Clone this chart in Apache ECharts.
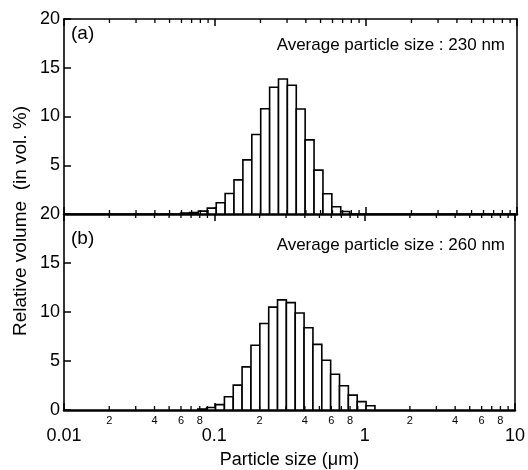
<!DOCTYPE html>
<html><head><meta charset="utf-8">
<script src="https://cdn.jsdelivr.net/npm/echarts@6/dist/echarts.min.js"></script>
<style>html,body{margin:0;padding:0;background:#fff}#c{width:528px;height:470px}</style>
</head><body><div id="c"></div>
<script>
// bin edges (µm)
const binEdges = [0.0592, 0.0678, 0.0776, 0.0889, 0.1019, 0.1167, 0.1336, 0.1530, 0.1753, 0.2008, 0.2300, 0.2633, 0.3015, 0.3453, 0.3954, 0.4529, 0.5187, 0.5940, 0.6803, 0.7791, 0.8923, 1.0219, 1.1703];
// relative volume (%) per bin
const volA = [0.1, 0.15, 0.3, 0.6, 1.16, 2.1, 3.5, 5.55, 8.15, 10.8, 13.0, 13.85, 13.2, 10.77, 7.6, 4.5, 2.08, 0.75, 0.25, 0, 0, 0];
const volB = [0, 0, 0.1, 0.25, 0.55, 1.35, 2.54, 4.4, 6.6, 8.83, 10.5, 11.24, 10.96, 9.9, 8.4, 6.7, 5.08, 3.65, 2.47, 1.52, 0.85, 0.44];
const minorTicks = [0.02,0.03,0.04,0.05,0.06,0.07,0.08,0.09,0.2,0.3,0.4,0.5,0.6,0.7,0.8,0.9,2,3,4,5,6,7,8,9];
const minorLabelValues = [0.02,0.04,0.06,0.08,0.2,0.4,0.6,0.8,2,4,6,8];
const minorLabelTexts = ['2','4','6','8','2','4','6','8','2','4','6','8'];
const panelLabels = ['(a)', '(b)'];
const annotations = ['Average particle size : 230 nm', 'Average particle size : 260 nm'];
const xTitle = 'Particle size (\u03bcm)';
const yTitle = 'Relative volume  (in vol. %)';

const FONT = 'Liberation Sans, Arial, Helvetica, sans-serif';
const chart = echarts.init(document.getElementById('c'), null, {renderer: 'canvas'});

function binData(vals) {
  return vals.map((v, i) => [binEdges[i], binEdges[i + 1], v]);
}
function barItem(params, api) {
  const v = api.value(2);
  if (!v) return null;
  const p0 = api.coord([api.value(0), 0]);
  const p1 = api.coord([api.value(1), v]);
  return {type: 'rect', shape: {x: p0[0], y: p1[1], width: p1[0] - p0[0], height: p0[1] - p1[1]},
    style: {fill: '#fff', stroke: '#000', lineWidth: 1.6}};
}
function minorTickItem(params, api) {
  const v = api.value(0);
  const b = api.coord([v, 0]);
  const t = api.coord([v, 20]);
  return {type: 'group', children: [
    {type: 'line', shape: {x1: b[0], y1: b[1], x2: b[0], y2: b[1] - 4}, style: {stroke: '#000', lineWidth: 1.3}},
    {type: 'line', shape: {x1: t[0], y1: t[1], x2: t[0], y2: t[1] + 4}, style: {stroke: '#000', lineWidth: 1.3}}
  ]};
}
function minorLabelItem(params, api) {
  const p = api.coord([api.value(0), 0]);
  return {type: 'text', x: p[0], y: p[1] + 5,
    style: {text: minorLabelTexts[params.dataIndex], fontSize: 11, fontFamily: FONT, fill: '#000', align: 'center', verticalAlign: 'top'}};
}

const grids = [
  {left: 64, right: 11, top: 19, height: 195},
  {left: 64, right: 11, top: 214, height: 197}
];
const xAxes = [], yAxes = [];
const fmtX = v => String(+Number(v).toPrecision(2));
for (let g = 0; g < 2; g++) {
  xAxes.push({type: 'log', logBase: 10, min: 0.01, max: 10, gridIndex: g, position: 'bottom',
    axisLine: {show: true, onZero: false, lineStyle: {color: '#000', width: 2.5}},
    axisTick: {show: true, inside: true, length: 7, lineStyle: {color: '#000', width: 1.5}},
    axisLabel: {show: g === 1, color: '#000', fontSize: 18, fontFamily: FONT, margin: 17, formatter: fmtX},
    splitLine: {show: false}, minorTick: {show: false},
    name: g === 1 ? xTitle : '', nameLocation: 'middle', nameGap: 41,
    nameTextStyle: {color: '#000', fontSize: 18, fontFamily: FONT}});
  xAxes.push({type: 'log', logBase: 10, min: 0.01, max: 10, gridIndex: g, position: 'top',
    axisLine: {show: true, onZero: false, lineStyle: {color: '#000', width: 1.5}},
    axisTick: {show: true, inside: true, length: 7, lineStyle: {color: '#000', width: 1.5}},
    axisLabel: {show: false}, splitLine: {show: false}});
  yAxes.push({type: 'value', min: 0, max: 20, interval: 5, gridIndex: g, position: 'left',
    axisLine: {show: true, onZero: false, lineStyle: {color: '#000', width: 1.6}},
    axisTick: {show: true, inside: true, length: 7, lineStyle: {color: '#000', width: 1.5}},
    axisLabel: {color: '#000', fontSize: 18, fontFamily: FONT, margin: 4,
      formatter: g === 0 ? (v => v === 0 ? '' : String(v)) : (v => String(v))},
    splitLine: {show: false}});
  yAxes.push({type: 'value', min: 0, max: 20, interval: 5, gridIndex: g, position: 'right',
    axisLine: {show: true, onZero: false, lineStyle: {color: '#000', width: 1.5}},
    axisTick: {show: false}, axisLabel: {show: false}, splitLine: {show: false}});
}

const series = [];
[volA, volB].forEach((vals, g) => {
  series.push({type: 'custom', xAxisIndex: g * 2, yAxisIndex: g * 2, renderItem: barItem,
    encode: {x: [0, 1], y: 2}, data: binData(vals), clip: false, z: 3});
  series.push({type: 'custom', xAxisIndex: g * 2, yAxisIndex: g * 2, renderItem: minorTickItem,
    encode: {x: 0, y: 1}, data: minorTicks.map(v => [v, 0]), clip: false, z: 4});
});
series.push({type: 'custom', xAxisIndex: 2, yAxisIndex: 2, renderItem: minorLabelItem,
  encode: {x: 0, y: 1}, data: minorLabelValues.map(v => [v, 0]), clip: false, z: 4});

const graphic = [
  {type: 'text', x: 21, y: 221, rotation: Math.PI / 2,
    style: {text: yTitle, fontSize: 19, fontFamily: FONT, fill: '#000', align: 'center', verticalAlign: 'middle'}},
  {type: 'text', x: 71, y: 34, style: {text: panelLabels[0], fontSize: 19, fontFamily: FONT, fill: '#000', align: 'left', verticalAlign: 'middle'}},
  {type: 'text', x: 71, y: 239, style: {text: panelLabels[1], fontSize: 19, fontFamily: FONT, fill: '#000', align: 'left', verticalAlign: 'middle'}},
  {type: 'text', x: 505, y: 45, style: {text: annotations[0], fontSize: 17, fontFamily: FONT, fill: '#000', align: 'right', verticalAlign: 'middle'}},
  {type: 'text', x: 505, y: 245, style: {text: annotations[1], fontSize: 17, fontFamily: FONT, fill: '#000', align: 'right', verticalAlign: 'middle'}}
];

chart.setOption({
  animation: false,
  backgroundColor: '#fff',
  grid: grids,
  xAxis: xAxes,
  yAxis: yAxes,
  series: series,
  graphic: graphic
});
</script>
</body></html>
